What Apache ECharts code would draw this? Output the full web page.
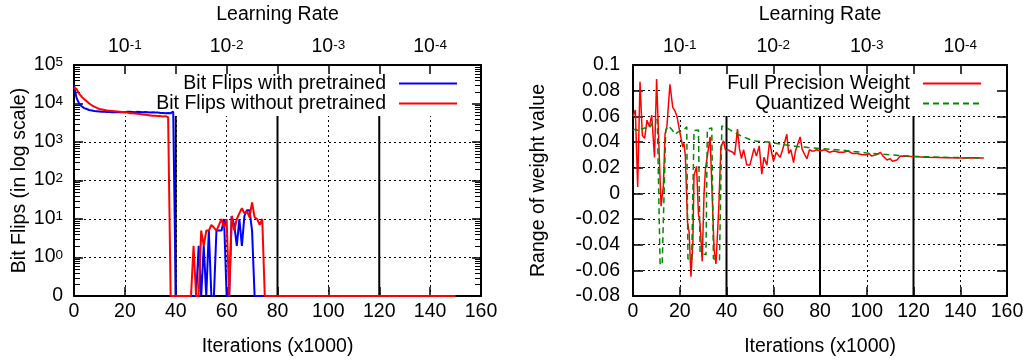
<!DOCTYPE html>
<html><head><meta charset="utf-8">
<script src="https://cdn.jsdelivr.net/npm/echarts@6/dist/echarts.min.js"></script>
<style>html,body{margin:0;padding:0;background:#fff}#c{width:1027px;height:362px}</style>
</head><body><div id="c"></div>
<script>
// ---------------- data ----------------
const iterTickMin = 0, iterTickMax = 160, iterTickStep = 20;
const lrTickPos = [20, 60, 100, 140];
const lrTickExp = ['-1', '-2', '-3', '-4'];
const lrSteps = [40, 80, 120];

// bit flips per 1000 iterations, index = iteration (x1000), 0..150
const bitFlipsWith = [
 30000,14000,10000,8500,7600,7200,6800,6600,6400,6300,
 6200,6100,6100,6000,6000,5900,6000,5900,5900,6000,
 5900,6100,6100,6000,5900,6100,6000,5900,6000,5900,
 5800,5900,5800,5800,5700,5700,5600,5700,5600,6200,
 0,0,0,0,0,0,0,0,0,
 2,0,2,0,5,0,0,5,5,5,10,0,0,12,7,2,10,2,12,17,17,5,
 0,0,0,0,0,0,0,0,0,0,0,0,0,0,0,0,0,0,0,0,
 0,0,0,0,0,0,0,0,0,0,0,0,0,0,0,0,0,0,0,0,
 0,0,0,0,0,0,0,0,0,0,0,0,0,0,0,0,0,0,0,0,
 0,0,0,0,0,0,0,0,0,0,0,0,0,0,0,0,0,0,0,0
];
const bitFlipsWithout = [
 26000,24000,18000,15000,13000,11500,10000,9000,8300,7700,
 7200,7000,6800,6600,6500,6400,6300,6200,6100,6000,
 5900,5800,5600,5600,5500,5400,5300,5200,5100,5000,
 4900,4800,4800,4700,4700,4600,4700,4400,
 0,0,0,0,0,0,0,0,0,
 2,0,0,5,2,5,5,7,6,5,7,10,6,10,0,12,5,10,14,19,14,16,11,27,11,10,7,10,
 0,0,0,0,0,0,0,0,0,0,0,0,0,0,0,0,0,0,0,0,
 0,0,0,0,0,0,0,0,0,0,0,0,0,0,0,0,0,0,0,0,
 0,0,0,0,0,0,0,0,0,0,0,0,0,0,0,0,0,0,0,0,
 0,0,0,0,0,0,0,0,0,0,0,0,0,0,0,0
];
const bitFlipLogExp = [-1, 0, 1, 2, 3, 4, 5];

// range of weight value: [iteration (x1000), value]
const fullPrecisionWeight = [
 [0,0.060],[1,0.065],[2,0.005],[3,0.087],[4,0.045],[5,0.043],[6,0.057],[7,0.052],[8,0.061],[8.7,0.062],
 [9.2,0.028],[10.1,0.089],[11.3,0.026],[12,-0.010],[13,0.006],[13.7,0.046],[14.5,0.052],[15.8,0.085],[17,0.067],[18,0.064],
 [18.8,0.060],[20,0.048],[21.3,0.036],[21.8,0.039],[22.4,0.029],[23.3,-0.022],[24,-0.030],[24.8,-0.065],[25.6,-0.039],[26.1,0.014],
 [27.2,0.021],[28,-0.016],[28.7,-0.024],[29.6,-0.053],[30.4,0.000],[31,0.019],[31.8,0.029],[33,0.044],[33.7,0.007],[34.7,-0.044],
 [35.5,-0.055],[36,-0.055],[36.7,-0.011],[37.6,0.036],[38.7,0.041],[39.5,0.034],[40.5,0.034],[41.5,0.033],[42.7,0.032],[43.5,0.030],
 [44.7,0.050],[45.5,0.035],[46.4,0.027],[47.3,0.034],[48.7,0.022],[50,0.022],[50.8,0.023],[51.8,0.035],[52.8,0.029],[54,0.037],
 [55.1,0.015],[56,0.028],[57.3,0.022],[58.4,0.040],[59.2,0.039],[60.1,0.025],[61.3,0.032],[62.9,0.028],[64,0.034],[65.8,0.046],
 [66.6,0.031],[67.5,0.034],[68.7,0.024],[69.5,0.033],[71.5,0.044],[72.4,0.034],[73.5,0.030],[74.4,0.027],[75.5,0.034],[76.5,0.033],
 [77.6,0.033],[78.5,0.034],[80,0.033],[82,0.034],[84,0.032],[86,0.033],[88,0.032],[90,0.032],[92,0.033],[94,0.031],
 [96,0.031],[98,0.030],[100,0.030],[101,0.031],[102,0.029],[104,0.030],[105.8,0.032],[107,0.029],[108.7,0.026],[110,0.027],
 [111,0.025],[112.9,0.026],[114.3,0.029],[116,0.0288],[120,0.0287],[125,0.0282],[130,0.0280],[135,0.0278],[140,0.0276],[145,0.0277],
 [150,0.0275]
];
const quantizedWeight = [
 [0,0.049],[1,0.050],[2,0.049],[3,0.051],[4,0.050],[5,0.051],[6,0.050],[7,0.051],[8,0.054],[9,0.056],
 [10.4,0.0575],[11,0.057],[11.6,-0.056],[12.5,-0.055],[14,0.049],[15.1,0.0525],[16.5,0.050],[18,0.046],[19.4,0.048],[21.3,0.0488],
 [23,0.0518],[23.5,-0.051],[25.1,-0.0525],[26.1,0.049],[28,0.0493],[28.7,-0.046],[31.2,-0.048],[31.8,0.050],[33.7,0.051],[34.4,-0.051],
 [37,-0.052],[38,0.0525],[40,0.051],[43,0.048],[46,0.045],[50,0.042],[53,0.0405],[58,0.0400],[65,0.0378],[70,0.0365],
 [75,0.0357],[80,0.0350],[90,0.0335],[100,0.0315],[110,0.0300],[120,0.0288],[135,0.0280],[150,0.0275]
];

// ---------------- chart ----------------
const FONT = "'Liberation Sans', Arial, Helvetica, sans-serif";
const FS = 19.5;
const txt = {color: '#000', fontSize: FS, fontFamily: FONT};
const supRich = {
  b: {fontSize: FS, fontFamily: FONT, color: '#000', lineHeight: 19, verticalAlign: 'bottom'},
  s: {fontSize: 13.5, fontFamily: FONT, color: '#000', lineHeight: 13, verticalAlign: 'top', padding: [0, 0, 12, 0]}
};
const frameLine = {show: true, onZero: false, lineStyle: {color: '#000', width: 2}};
const gridDots = {show: true, lineStyle: {color: '#000', width: 1, type: [2, 3]}};

const grids = [
  {left: 74, top: 62, width: 407, height: 238.5},
  {left: 633, top: 62, width: 374, height: 238.5}
];

function xAxesFor(gi) {
  return [
    {type: 'value', gridIndex: gi, position: 'bottom', min: iterTickMin, max: iterTickMax, interval: iterTickStep, z: 1.5,
     axisLine: frameLine, axisTick: {show: true, inside: true, length: 9, lineStyle: {color: '#000', width: 1.5}},
     axisLabel: Object.assign({margin: 6}, txt), splitLine: {show: false},
     name: 'Iterations (x1000)', nameLocation: 'middle', nameGap: 41, nameTextStyle: txt},
    {type: 'value', gridIndex: gi, position: 'top', min: iterTickMin, max: iterTickMax, interval: iterTickStep, z: 1.5,
     axisLine: frameLine, axisTick: {show: true, inside: true, length: 9, lineStyle: {color: '#000', width: 1.5}},
     axisLabel: {margin: 8, formatter: v => { const k = lrTickPos.indexOf(v); return k < 0 ? '' : '{b|10}{s|' + lrTickExp[k] + '}'; }, rich: supRich},
     splitLine: {show: false},
     name: 'Learning Rate', nameLocation: 'middle', nameGap: 40, nameTextStyle: txt},
    {type: 'value', gridIndex: gi, position: 'bottom', min: iterTickMin, max: iterTickMax, interval: iterTickStep, z: 0,
     axisLine: {show: false}, axisTick: {show: false}, axisLabel: {show: false}, splitLine: gridDots}
  ];
}

const xAxis = xAxesFor(0).concat(xAxesFor(1));
const logLabel = v => { const e = Math.round(Math.log10(v)); return e < 0 ? '{b|0}' : '{b|10}{s|' + e + '}'; };
const wLabel = v => String(Math.round(v * 100) / 100);
const yAxis = [
  {type: 'log', logBase: 10, gridIndex: 0, position: 'left', min: 0.1, max: 1e5, splitNumber: 6, z: 1.5,
   axisLine: frameLine, axisTick: {show: true, inside: true, length: 9, lineStyle: {color: '#000', width: 1.5}},
   axisLabel: {margin: 11, formatter: logLabel, rich: supRich}, splitLine: {show: false},
   name: 'Bit Flips (in log scale)', nameLocation: 'middle', nameGap: 44, nameTextStyle: txt},
  {type: 'log', logBase: 10, gridIndex: 0, position: 'right', min: 0.1, max: 1e5, splitNumber: 6, z: 1.5,
   axisLine: frameLine, axisTick: {show: true, inside: true, length: 9, lineStyle: {color: '#000', width: 1.5}},
   axisLabel: {show: false}, splitLine: {show: false}},
  {type: 'log', logBase: 10, gridIndex: 0, position: 'left', min: 0.1, max: 1e5, splitNumber: 6, z: 0,
   axisLine: {show: false}, axisTick: {show: false}, axisLabel: {show: false}, splitLine: gridDots},
  {type: 'value', gridIndex: 1, position: 'left', min: -0.08, max: 0.1, interval: 0.02, z: 1.5,
   axisLine: frameLine, axisTick: {show: true, inside: true, length: 10, lineStyle: {color: '#000', width: 1.5}},
   axisLabel: Object.assign({margin: 13, formatter: wLabel}, txt), splitLine: {show: false},
   name: 'Range of weight value', nameLocation: 'middle', nameGap: 84, nameTextStyle: txt},
  {type: 'value', gridIndex: 1, position: 'right', min: -0.08, max: 0.1, interval: 0.02, z: 1.5,
   axisLine: frameLine, axisTick: {show: true, inside: true, length: 10, lineStyle: {color: '#000', width: 1.5}},
   axisLabel: {show: false}, splitLine: {show: false}},
  {type: 'value', gridIndex: 1, position: 'left', min: -0.08, max: 0.1, interval: 0.02, z: 0,
   axisLine: {show: false}, axisTick: {show: false}, axisLabel: {show: false}, splitLine: gridDots}
];

// decoration: learning-rate step lines, key box, minor log ticks
function decoRenderer(yLo, yHi, boxLeft, boxHeight, minor) {
  return function (params, api) {
    const cs = params.coordSys;
    const ch = [];
    lrSteps.forEach(s => {
      const a = api.coord([s, yLo]), b = api.coord([s, yHi]);
      ch.push({type: 'line', shape: {x1: a[0], y1: a[1], x2: b[0], y2: b[1]}, style: {stroke: '#000', lineWidth: 2}});
    });
    ch.push({type: 'rect', shape: {x: cs.x + boxLeft, y: cs.y, width: cs.width - boxLeft, height: boxHeight}, style: {fill: '#fff'}});
    if (minor) {
      for (let d = bitFlipLogExp[0]; d < bitFlipLogExp[bitFlipLogExp.length - 1]; d++) {
        for (let m = 2; m <= 9; m++) {
          const p = api.coord([1, m * Math.pow(10, d)]);
          const yy = Math.round(p[1]) + 0.5;
          ch.push({type: 'line', shape: {x1: cs.x, y1: yy, x2: cs.x + 6, y2: yy}, style: {stroke: '#000', lineWidth: 1}});
          ch.push({type: 'line', shape: {x1: cs.x + cs.width - 6, y1: yy, x2: cs.x + cs.width, y2: yy}, style: {stroke: '#000', lineWidth: 1}});
        }
      }
    }
    return {type: 'group', children: ch};
  };
}

const toLog = arr => arr.map((v, i) => [i, v === 0 ? 0.1 : v]);

const legendBase = {orient: 'vertical', align: 'right', top: 73.5, padding: 0, itemGap: 0, itemWidth: 58, itemHeight: 14,
  selectedMode: false, itemStyle: {opacity: 0, borderWidth: 0},
  textStyle: {color: '#000', fontSize: FS, fontFamily: FONT, lineHeight: 19, padding: [0, 8, 0, 0]}};

const option = {
  animation: false,
  backgroundColor: '#fff',
  grid: grids,
  xAxis: xAxis,
  yAxis: yAxis,
  legend: [
    Object.assign({right: 569, data: ['Bit Flips with pretrained', 'Bit Flips without pretrained']}, legendBase),
    Object.assign({right: 45, data: ['Full Precision Weight', 'Quantized Weight']}, legendBase)
  ],
  series: [
    {type: 'custom', xAxisIndex: 0, yAxisIndex: 0, z: 1, silent: true, data: [[0, 1]],
     renderItem: decoRenderer(0.1, 1e5, 0, 51, true)},
    {type: 'custom', xAxisIndex: 3, yAxisIndex: 3, z: 1, silent: true, data: [[0, 0]],
     renderItem: decoRenderer(-0.08, 0.1, 30, 51, false)},
    {name: 'Bit Flips with pretrained', type: 'line', xAxisIndex: 0, yAxisIndex: 0, z: 2,
     data: toLog(bitFlipsWith), showSymbol: false, symbol: 'none',
     lineStyle: {color: '#0000ff', width: 2}, itemStyle: {color: '#0000ff'}},
    {name: 'Bit Flips without pretrained', type: 'line', xAxisIndex: 0, yAxisIndex: 0, z: 2,
     data: toLog(bitFlipsWithout), showSymbol: false, symbol: 'none',
     lineStyle: {color: '#ff0000', width: 2}, itemStyle: {color: '#ff0000'}},
    {name: 'Full Precision Weight', type: 'line', xAxisIndex: 3, yAxisIndex: 3, z: 2,
     data: fullPrecisionWeight, showSymbol: false, symbol: 'none',
     lineStyle: {color: '#ff0000', width: 1.5}, itemStyle: {color: '#ff0000'}},
    {name: 'Quantized Weight', type: 'line', xAxisIndex: 3, yAxisIndex: 3, z: 2,
     data: quantizedWeight, showSymbol: false, symbol: 'none',
     lineStyle: {color: '#008a00', width: 1.5, type: [6, 4]}, itemStyle: {color: '#008a00'}}
  ]
};

const chart = echarts.init(document.getElementById('c'), null, {renderer: 'canvas'});
chart.setOption(option);
</script>
</body></html>
